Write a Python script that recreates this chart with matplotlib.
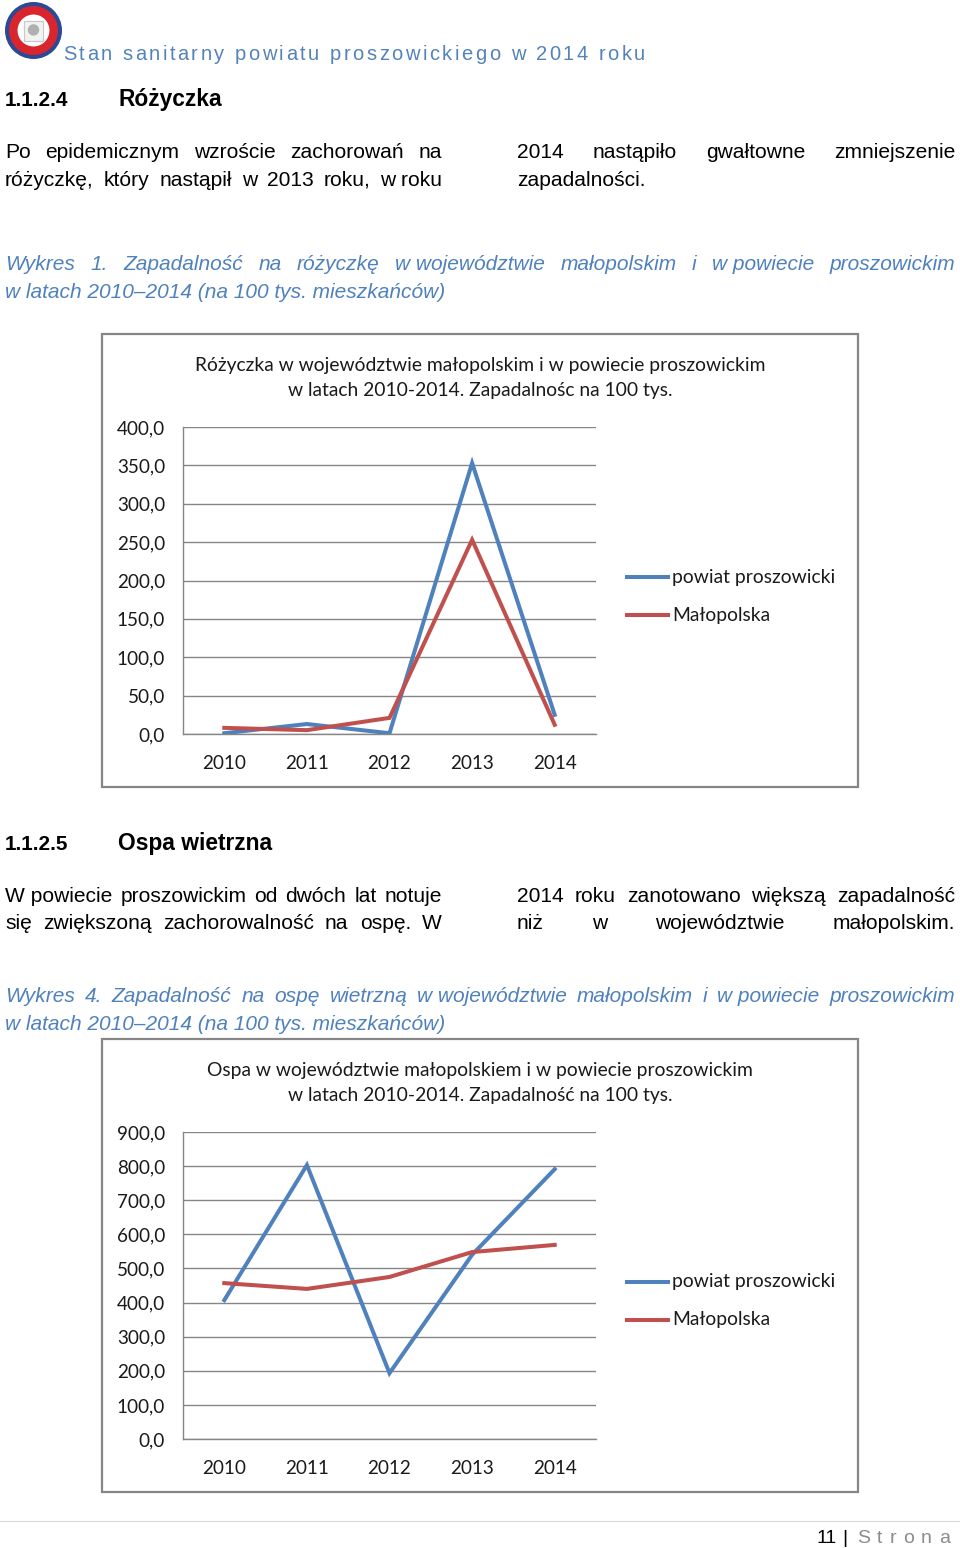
import matplotlib
matplotlib.use('Agg')
import matplotlib.pyplot as plt
from matplotlib.patches import Rectangle, Circle
from matplotlib.lines import Line2D

# --- data ---
years = ['2010', '2011', '2012', '2013', '2014']

roz_powiat = [1, 13, 1, 353, 25]
roz_malopolska = [8, 5, 21, 253, 12]
roz_ticks = [0, 50, 100, 150, 200, 250, 300, 350, 400]

ospa_powiat = [407, 803, 193, 540, 791]
ospa_malopolska = [457, 440, 475, 548, 569]
ospa_ticks = [0, 100, 200, 300, 400, 500, 600, 700, 800, 900]

series_names = ['powiat proszowicki', 'Małopolska']

BLUE = '#4F81BD'
RED = '#C0504D'
GRID = '#868686'
CAP = '#4F81BD'
TXT = '#000000'

PAGE_FONT = 'Liberation Sans'
CHART_FONT = 'Lato'

W, H = 960, 1548
fig = plt.figure(figsize=(W / 100, H / 100), dpi=100)
r = fig.canvas.get_renderer()


def fx(x):
    return x / W


def fy(y):
    return 1 - y / H


def txt(x, y, s, **kw):
    return fig.text(fx(x), fy(y), s, **kw)


def width(s, **kw):
    t = txt(0, 0, s, **kw)
    w = t.get_window_extent(r).width
    t.remove()
    return w


def fit(s, target, **kw):
    # font size that gives the string the wanted pixel width
    return 10 * target / width(s, size=10, **kw)


def justify(s, x0, x1, y, **kw):
    words = [w.replace('~', ' ') for w in s.split()]
    ws = [width(w, **kw) for w in words]
    gap = (x1 - x0 - sum(ws)) / (len(words) - 1)
    x = x0
    for w, wd in zip(words, ws):
        txt(x, y, w, va='baseline', **kw)
        x += wd + gap


def spaced(s, x0, x1, y, **kw):
    # letter spaced text stretched between x0 and x1
    ref = width('l', **kw)
    full = width(s + 'l', **kw) - ref
    sp = (x1 - x0 - full) / (len(s) - 1)
    for i, ch in enumerate(s):
        pos = width(s[:i] + 'l', **kw) - ref if i else 0
        txt(x0 + pos + i * sp, y, ch, va='baseline', **kw)


# --- header ---
lax = fig.add_axes([fx(5), fy(59), 57 / W, 57 / H])
lax.set_xlim(-1, 1)
lax.set_ylim(-1, 1)
lax.axis('off')
lax.add_patch(Circle((0, 0), 1.0, fc='#2A4A96', ec='none'))
lax.add_patch(Circle((0, 0), 0.86, fc='#D9262E', ec='none'))
lax.add_patch(Circle((0, 0), 0.56, fc='white', ec='none'))
lax.add_patch(Rectangle((-0.32, -0.36), 0.64, 0.7, fc='#F2F2F2', ec='#C8C8C8', lw=0.8))
lax.add_patch(Circle((0, 0.02), 0.2, fc='#B0B0B0', ec='none'))

hdr = dict(family=PAGE_FONT, size=14.5, color='#5482BA')
spaced('Stan sanitarny powiatu proszowickiego w 2014 roku', 63, 645, 60, **hdr)

# --- text kwargs ---
body_size = fit('zapadalności.', 128, family=PAGE_FONT)
body = dict(family=PAGE_FONT, size=body_size, color=TXT)
cap_size = fit('w latach 2010–2014 (na 100 tys. mieszkańców)', 441, family=PAGE_FONT, style='italic')
cap = dict(family=PAGE_FONT, size=cap_size, color=CAP, style='italic')
num_kw = dict(family=PAGE_FONT, weight='bold', color=TXT)
num_size = fit('1.1.2.4', 64, **num_kw)
head_kw = dict(family=PAGE_FONT, weight='bold', color=TXT)
head_size = fit('Różyczka', 103, **head_kw)

# --- section 1 ---
txt(5, 106, '1.1.2.4', va='baseline', size=num_size, **num_kw)
txt(118, 106, 'Różyczka', va='baseline', size=head_size, **head_kw)
justify('Po epidemicznym wzroście zachorowań na', 5, 442, 158, **body)
justify('różyczkę, który nastąpił w 2013 roku, w~roku', 5, 442, 186, **body)
justify('2014 nastąpiło gwałtowne zmniejszenie', 517, 955, 158, **body)
txt(517, 186, 'zapadalności.', va='baseline', **body)
justify('Wykres 1. Zapadalność na różyczkę w~województwie małopolskim i w~powiecie proszowickim',
        5, 955, 270, **cap)
txt(5, 298, 'w latach 2010–2014 (na 100 tys. mieszkańców)', va='baseline', **cap)

# --- section 2 ---
txt(5, 850, '1.1.2.5', va='baseline', size=num_size, **num_kw)
txt(118, 850, 'Ospa wietrzna', va='baseline', size=head_size, **head_kw)
justify('W~powiecie proszowickim od dwóch lat notuje', 5, 442, 902, **body)
justify('się zwiększoną zachorowalność na ospę. W', 5, 442, 929, **body)
justify('2014 roku zanotowano większą zapadalność', 517, 955, 902, **body)
justify('niż w województwie małopolskim.', 517, 955, 929, **body)
justify('Wykres 4. Zapadalność na ospę wietrzną w~województwie małopolskim i w~powiecie proszowickim',
        5, 955, 1002, **cap)
txt(5, 1030, 'w latach 2010–2014 (na 100 tys. mieszkańców)', va='baseline', **cap)

# --- charts ---
ch_title_size = fit('Różyczka w województwie małopolskim i w powiecie proszowickim', 573, family=CHART_FONT)
ch_tick_size = fit('400,0', 48, family=CHART_FONT)
ch_leg_size = fit('powiat proszowicki', 164, family=CHART_FONT)


def chart(top, title1, title2, ticks, powiat, malopolska):
    fig.add_artist(Rectangle((fx(102), fy(top + 453)), 756 / W, 453 / H,
                             transform=fig.transFigure, fill=False, ec=GRID, lw=1.6))
    tk = dict(family=CHART_FONT, color='#1A1A1A')
    txt(480, top + 37, title1, ha='center', va='baseline', size=ch_title_size, **tk)
    txt(480, top + 62, title2, ha='center', va='baseline', size=ch_title_size, **tk)

    ax = fig.add_axes([fx(183), fy(top + 400), 413 / W, 307 / H])
    x = range(len(years))
    ax.plot(x, powiat, color=BLUE, lw=2.9, solid_joinstyle='miter', zorder=3)
    ax.plot(x, malopolska, color=RED, lw=2.9, solid_joinstyle='miter', zorder=3)
    ax.set_xlim(-0.5, len(years) - 0.5)
    ax.set_ylim(ticks[0], ticks[-1])
    ax.set_yticks(ticks)
    ax.set_yticklabels([f'{t:.1f}'.replace('.', ',') for t in ticks])
    ax.set_xticks(list(x))
    ax.set_xticklabels(years)
    ax.yaxis.grid(True, color=GRID, lw=1)
    ax.set_axisbelow(True)
    for s in ['top', 'right']:
        ax.spines[s].set_visible(False)
    for s in ['left', 'bottom']:
        ax.spines[s].set_color(GRID)
        ax.spines[s].set_linewidth(1)
    ax.tick_params(axis='y', length=0, pad=13)
    ax.tick_params(axis='x', length=0, pad=15)
    for lab in ax.get_xticklabels() + ax.get_yticklabels():
        lab.set_fontfamily(CHART_FONT)
        lab.set_fontsize(ch_tick_size)
        lab.set_color('#1A1A1A')

    for i, (name, col) in enumerate(zip(series_names, [BLUE, RED])):
        yy = top + 243 + i * 38
        fig.add_artist(Line2D([fx(627), fx(668)], [fy(yy), fy(yy)],
                              transform=fig.transFigure, color=col, lw=2.9))
        txt(672, yy, name, va='center', size=ch_leg_size, **tk)


chart(334, 'Różyczka w województwie małopolskim i w powiecie proszowickim',
      'w latach 2010-2014. Zapadalnośc na 100 tys.', roz_ticks, roz_powiat, roz_malopolska)
chart(1039, 'Ospa w województwie małopolskiem i w powiecie proszowickim',
      'w latach 2010-2014. Zapadalność na 100 tys.', ospa_ticks, ospa_powiat, ospa_malopolska)

# --- footer ---
fig.add_artist(Line2D([0, 1], [fy(1521), fy(1521)], transform=fig.transFigure,
                      color='#D9D9D9', lw=0.8))
foot = dict(family=PAGE_FONT, size=14)
txt(816, 1543, '11', va='baseline', color=TXT, **foot)
txt(842, 1543, '|', va='baseline', color=TXT, **foot)
spaced('Strona', 857, 950, 1543, color='#8C8C8C', **foot)

fig.savefig('out.png', dpi=100)
